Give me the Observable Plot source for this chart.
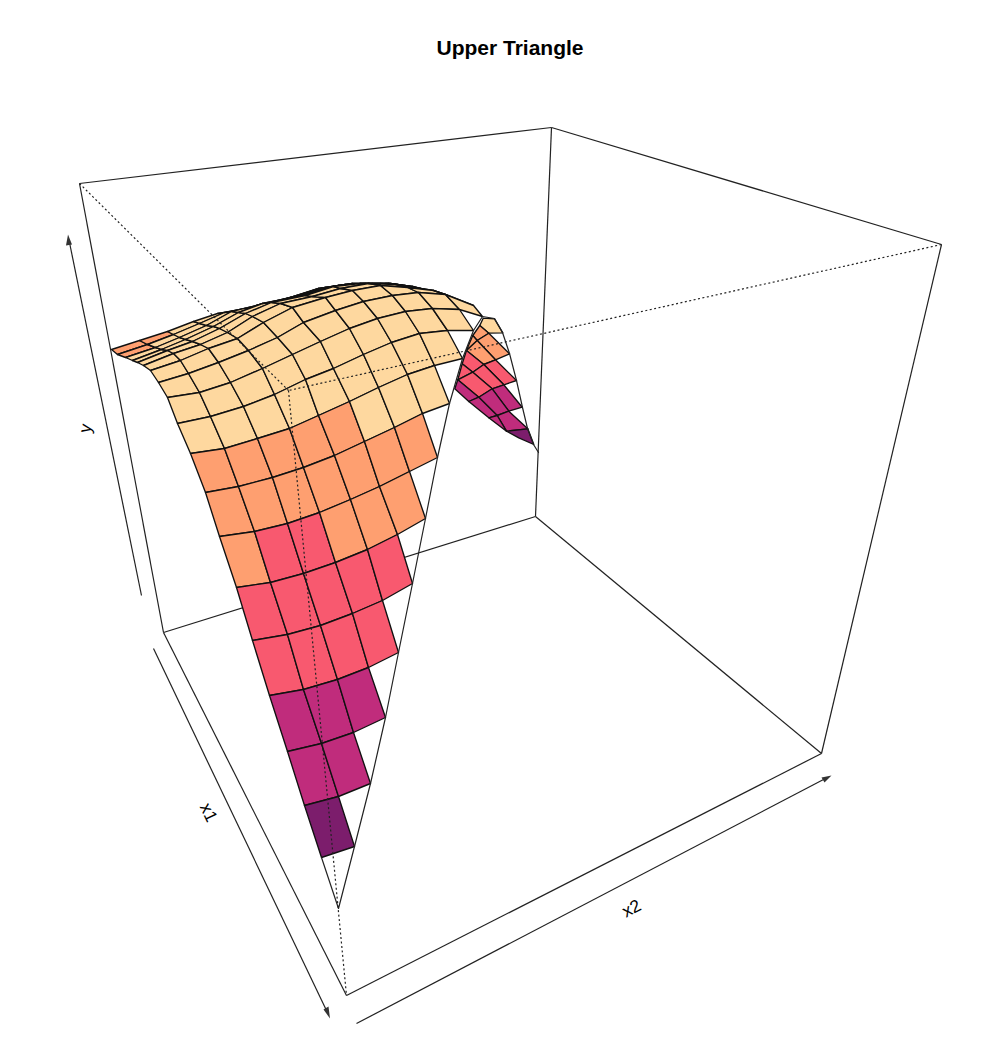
<!DOCTYPE html>
<html>
<head>
<meta charset="utf-8">
<style>html,body{margin:0;padding:0;background:#fff}svg{display:block}</style>
<script src="https://cdn.jsdelivr.net/npm/d3@7"></script>
<script src="https://cdn.jsdelivr.net/npm/@observablehq/plot@0.6"></script>
</head>
<body>
<div id="chart"></div>
<script>
const row0=[[321,857],[354,846]];
const row1=[[304,805],[338,796],[370,783]];
const row2=[[287,751],[321,743],[353,732],[385,717]];
const row3=[[269,695],[303,689],[337,679],[368,667],[398,652]];
const row4=[[252,640],[287,634],[320,625],[352,613],[382,600],[412,583]];
const row5=[[236,587],[270,582],[303,573],[335,562],[367,549],[397,534],[425,518]];
const row6=[[219,536],[254,531],[287,523],[319,512],[350,499],[379,486],[409,471],[437,457]];
const row7=[[205,492],[238,486],[272,477],[303,467],[334,455],[364,441],[394,427],[422,413],[449,403]];
const row8=[[190,453],[224,448],[257,438],[289,428],[318,415],[349,401],[378,387],[407,374],[434,365],[462,358]];
const row9=[[177,423],[210,416],[243,406],[274,394],[305,379],[333,368],[363,354],[391,342],[419,333],[447,330],[473,330]];
const row10=[[167,397],[199,392],[230,382],[262,368],[292,354],[320,341],[349,328],[377,318],[405,311],[432,308],[459,309],[482,316]];
const row11=[[158,382],[188,373],[218,362],[248,350],[277,337],[303,322],[335,310],[363,301],[392,295],[418,292],[445,294],[473,305],[494,318]];
const row12=[[150,370],[180,360],[208,348],[237,338],[263,322],[292,307],[325,297],[352,290],[380,285],[407,287],[433,290],[447,295]];
const row13=[[143,365],[173,353],[200,344],[227,332],[252,316],[280,303],[312,296],[340,288],[368,283],[395,284],[420,288],[443,295]];
const row14=[[137,362],[167,350],[192,341],[219,328],[245,313],[271,302],[305,295],[333,286],[360,283],[388,283],[412,286],[435,292]];
const row15=[[132,360],[161,349],[185,339],[213,326],[238,312],[262,303],[297,296],[325,287],[352,283],[380,283],[404,285],[428,290]];
const row16=[[125,357],[155,347],[179,337],[206,325],[231,311],[256,305],[290,297],[318,288],[345,284],[372,283],[397,284],[422,289]];
const row17=[[117,354],[147,344],[173,334],[199,323],[224,312],[250,307],[283,299],[310,291],[338,285],[365,283],[390,283],[415,288]];
const row18=[[111,349],[139,340],[167,331],[193,321],[217,313],[243,309],[277,303],[303,295],[333,286],[360,283],[385,283],[410,287]];
const rows=[row0,row1,row2,row3,row4,row5,row6,row7,row8,row9,row10,row11,row12,row13,row14,row15,row16,row17,row18];

// height band of each cell, row by row (1 = lowest, 5 = highest)
const bands=[
  [1],
  [2,2],
  [2,2,2],
  [3,3,3,3],
  [3,3,3,3,3],
  [4,3,3,4,4,4],
  [4,4,4,4,4,4,4],
  [4,4,4,4,4,5,5,5],
  [5,5,5,5,5,5,5,5,5],
  [5,5,5,5,5,5,5,5,5,5],
  [5,5,5,5,5,5,5,5,5,5,5],
  [5,5,5,5,5,5,5,5,5,5,5],
  [5,5,5,5,5,5,5,5,5,5,5],
  [5,5,5,5,5,5,5,5,5,5,5],
  [5,5,5,5,5,5,5,5,5,5,5],
  [5,5,5,5,5,5,5,5,5,5,5],
  [4,5,5,5,5,5,5,5,5,5,5],
  [4,4,5,5,5,5,5,5,5,5,5]
];

// the far flank that shows behind the ridge: outline and band of each cell
const farCells=[
  {band:5,pts:[[482.7,317.7],[494,318.3],[502.3,332.3],[488.3,332.7],[479.3,325]]},
  {band:4,pts:[[479.3,325],[488.3,332.7],[476.7,340],[472.3,335]]},
  {band:4,pts:[[472.3,335],[476.7,340],[466,350],[468,345]]},
  {band:4,pts:[[488.3,332.7],[509,353.3],[495,359.3],[476.7,340]]},
  {band:4,pts:[[476.7,340],[495,359.3],[483.3,364],[466,350]]},
  {band:3,pts:[[466,350],[483.3,364],[472.3,371.7],[461.7,363.3]]},
  {band:3,pts:[[461.7,363.3],[472.3,371.7],[457.3,379.3]]},
  {band:3,pts:[[495,359.3],[516,380],[503.3,384.3],[483.3,364]]},
  {band:3,pts:[[483.3,364],[503.3,384.3],[491.7,388.3],[472.3,371.7]]},
  {band:3,pts:[[472.3,371.7],[491.7,388.3],[478.3,396.7],[457.3,379.3]]},
  {band:2,pts:[[457.3,379.3],[478.3,396.7],[468.3,401],[454.3,388.3]]},
  {band:2,pts:[[503.3,384.3],[521.7,406.7],[508.3,410.7],[491.7,388.3]]},
  {band:2,pts:[[491.7,388.3],[508.3,410.7],[496.7,415],[478.3,396.7]]},
  {band:2,pts:[[478.3,396.7],[496.7,415],[488.3,417.3],[468.3,401]]},
  {band:2,pts:[[508.3,410.7],[527.3,428.3],[506,430.7],[496.7,415]]},
  {band:2,pts:[[496.7,415],[506,430.7],[488.3,417.3]]},
  {band:1,pts:[[506,430.7],[527.3,428.3],[533.3,444],[518.3,437.3]]}
];

const bandLevels=[1,2,3,4,5];
const bandColors=["#7C1D6C","#C02C7C","#F8596F","#FE9F70","#FED89F"];

const diagonal=[[321,857],[338,908],[354,846],[370,783],[385,717],[398,652],[412,583],[425,518],[437,457],[449,403],[462,358],[473,330],[482,316],[494,318],[502,332],[509,353],[516,380],[522,407],[527,428],[533,444],[538,452],[533,444]];

const rearEdges=[[163,632,535,516],[535,516,821,753],[163,632,346,995],[346,995,821,753]];
const frontEdges=[[79,183,551,127],[551,127,941,244],[551,127,535,516],[941,244,821,753],[79,183,163,632]];
const dottedEdges=[[79,183,288,390],[941,244,288,390],[288,390,346,995]];
const axisLines=[[141,595,69,242],[153,648,326,1010],[356,1023,823,779]];
const axisHeads=[
  [[67.5,234],[65.5,245],[71.5,244]],
  [[329.5,1018],[323,1009],[328,1006]],
  [[831,775],[821,777],[824,782]]
];
const labels=["Upper Triangle","y","x1","x2"];
const labelX=[509.5,85,208,631];
const labelY=[48,428,812,908];
const labelAngle=[0,-79,64.6,-27.6];

const cells=[];
let id=0;
const pushCell=(pts,band)=>{
  const c=id++;
  [...pts,pts[0]].forEach(([x,y])=>cells.push({cell:c,x,y,band}));
};
farCells.forEach(c=>pushCell(c.pts,c.band));
for(let k=rows.length-2;k>=0;k--){
  const a=rows[k],b=rows[k+1];
  bands[k].forEach((band,j)=>pushCell([a[j],a[j+1],b[j+1],b[j]],band));
}
const toLink=e=>({x1:e[0],y1:e[1],x2:e[2],y2:e[3]});
const heads=axisHeads.flatMap((h,i)=>[...h,h[0]].map(([x,y])=>({h:i,x,y})));
const diagPts=diagonal.map(([x,y])=>({x,y}));
const text=labels.map((t,i)=>({t,x:labelX[i],y:labelY[i],a:labelAngle[i],main:i===0}));
const font="Liberation Sans, Arial, sans-serif";

const chart=Plot.plot({
  width:984,height:1062,margin:0,
  style:{background:"#fff",fontFamily:font},
  x:{domain:[0,984],range:[0,984],axis:null},
  y:{domain:[0,1062],range:[0,1062],axis:null},
  color:{domain:bandLevels,range:bandColors,type:"ordinal"},
  marks:[
    Plot.link(rearEdges.map(toLink),{x1:"x1",y1:"y1",x2:"x2",y2:"y2",stroke:"#222",strokeWidth:1.2}),
    Plot.line(cells,{x:"x",y:"y",z:"cell",fill:"band",stroke:"#111",strokeWidth:1.35}),
    Plot.line(diagPts,{x:"x",y:"y",stroke:"#222",strokeWidth:1.2}),
    Plot.link(frontEdges.map(toLink),{x1:"x1",y1:"y1",x2:"x2",y2:"y2",stroke:"#222",strokeWidth:1.2}),
    Plot.link(dottedEdges.map(toLink),{x1:"x1",y1:"y1",x2:"x2",y2:"y2",stroke:"#222",strokeWidth:1.2,strokeDasharray:"2 2.5"}),
    Plot.link(axisLines.map(toLink),{x1:"x1",y1:"y1",x2:"x2",y2:"y2",stroke:"#222",strokeWidth:1.2}),
    Plot.line(heads,{x:"x",y:"y",z:"h",fill:"#333"}),
    Plot.text(text.filter(d=>d.main),{x:"x",y:"y",text:"t",fontSize:21,fontWeight:"bold",fill:"#000",textAnchor:"middle"}),
    ...text.filter(d=>!d.main).map(d=>Plot.text([d],{x:"x",y:"y",text:"t",rotate:d.a,fontSize:17.5,fill:"#000",textAnchor:"middle"}))
  ]
});
document.getElementById("chart").append(chart);
</script>
</body>
</html>
